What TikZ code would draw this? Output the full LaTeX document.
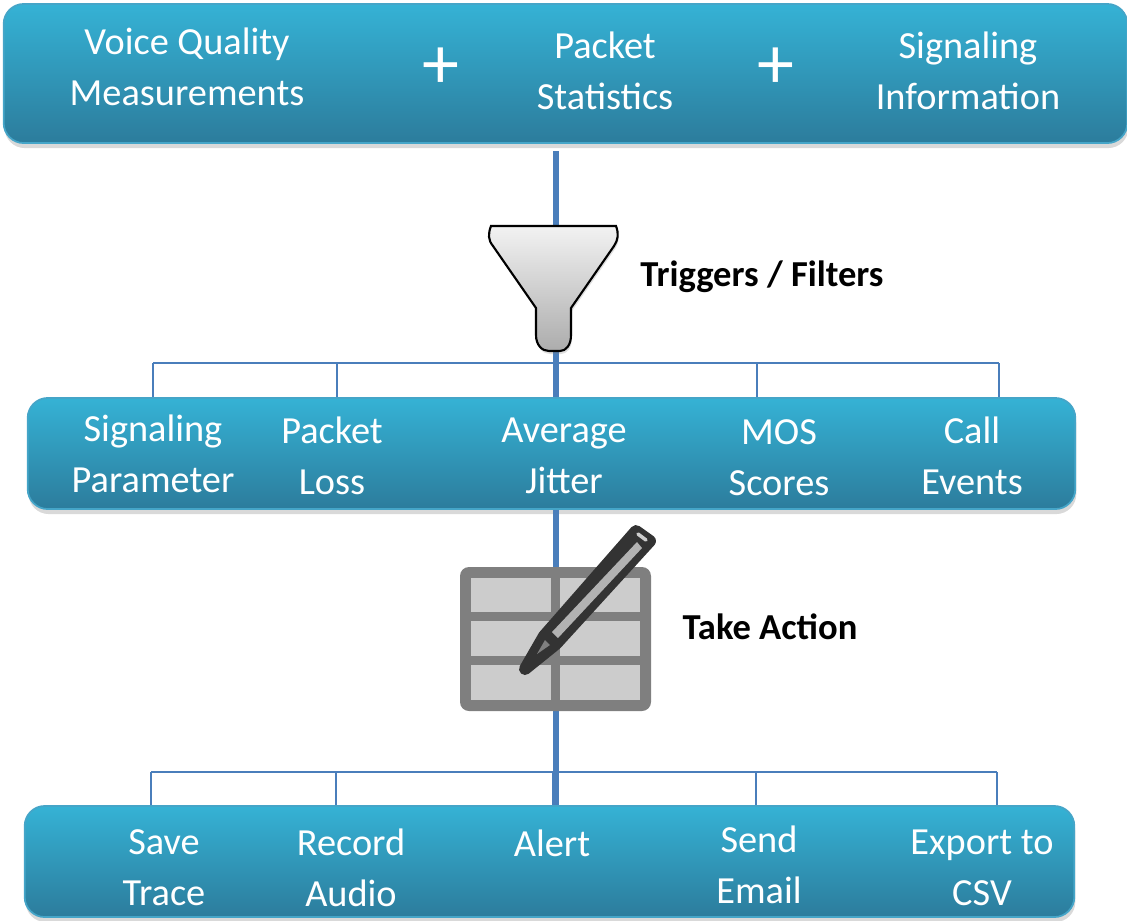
\documentclass[tikz,border=0pt]{standalone}
\usepackage{fontspec}
\setmainfont{Carlito}
\usetikzlibrary{shadows}
\definecolor{bartop}{HTML}{35B2D5}
\definecolor{barbottom}{HTML}{2C7C9C}
\definecolor{barline}{HTML}{45A5C8}
\definecolor{spineblue}{HTML}{4A7EBB}
\definecolor{tablegray}{HTML}{7F7F7F}
\definecolor{cellgray}{HTML}{CCCCCC}
\definecolor{pencildark}{HTML}{333333}
\tikzset{
    bar/.style={rectangle, rounded corners=0.2cm, draw=barline, line width=0.5pt, top color=bartop, bottom color=barbottom, inner sep=0pt, drop shadow={shadow xshift=0.01cm, shadow yshift=-0.05cm, opacity=0.3}},
    bartext/.style={text=white, align=center, font=\fontsize{10.9}{14.5}\selectfont, inner sep=0pt},
    plussign/.style={text=white, font=\fontsize{21}{21}\selectfont, inner sep=0pt},
    boldlabel/.style={text=black, font=\fontsize{10.4}{12}\selectfont\bfseries, inner sep=0pt},
    spine/.style={spineblue, line width=1.7pt},
    bus/.style={spineblue, line width=0.55pt}
}

\begin{document}
\begin{tikzpicture}[x=0.01cm, y=-0.01cm]
        \useasboundingbox (0, 0) rectangle (1127, 920);

        \node[bar, minimum width=11.23cm, minimum height=1.39cm] (topbar) at (565.5, 73.5) {};
        \node[bar, minimum width=10.47cm, minimum height=1.11cm] (midbar) at (551.5, 453.5) {};
        \node[bar, minimum width=10.49cm, minimum height=1.11cm] (botbar) at (549.5, 861.5) {};

        \coordinate (spinetop) at (556, 151);
        \draw[spine] (spinetop) -- (spinetop |- midbar.north);
        \draw[spine] (spinetop |- midbar.south) -- (spinetop |- botbar.north);

        \foreach \name/\xpos in {a/153, b/337, c/555, d/757, e/999} {
            \coordinate (mid\name) at (\xpos, 363);
            \draw[bus] (mid\name) -- (mid\name |- midbar.north);
        }
        \draw[bus] (mida) -- (mide);
        \foreach \name/\xpos in {a/151, b/336, c/553, d/756, e/997} {
            \coordinate (bot\name) at (\xpos, 772);
            \draw[bus] (bot\name) -- (bot\name |- botbar.north);
        }
        \draw[bus] (bota) -- (bote);

        \draw[black, line width=0.6pt, top color=gray!10, bottom color=gray!65, drop shadow={shadow xshift=0.01cm, shadow yshift=-0.03cm, opacity=0.25}]
            (491, 226) -- (616, 226) .. controls (619, 234) and (618, 240) .. (614, 246)
            -- (571, 308) -- (571, 335) .. controls (571, 345) and (566, 351) .. (560, 351)
            -- (549, 351) .. controls (542, 351) and (536, 345) .. (536, 335)
            -- (536, 308) -- (493, 246) .. controls (488, 240) and (488, 234) .. (491, 226) -- cycle;

        \fill[tablegray, rounded corners=0.09cm] (460, 567) rectangle (651, 711);
        \foreach \xa/\xb in {471/551, 560/640} {
            \foreach \ya/\yb in {578/612, 621/656, 665/700} {
                \fill[cellgray] (\xa, \ya) rectangle (\xb, \yb);
            }
        }

        \draw[pencildark, fill=pencildark, line width=3.4pt, line join=round] (525, 669) -- (544, 636) -- (636, 531) -- (650, 541) -- (556, 644) -- cycle;
        \fill[gray!60] (552, 632) -- (637, 542) -- (642, 548) -- (558, 638) -- cycle;
        \fill[tablegray] (537, 654) -- (545, 640) -- (550, 645) -- cycle;
        \draw[cellgray, line width=1pt, line cap=round] (638, 534) -- (646, 540);

        \node[bartext] (voice) at (187, 67) {Voice Quality\\Measurements};
        \node[plussign] (plusa) at (441, 68) {+};
        \node[bartext] (packet) at (605, 71) {Packet\\Statistics};
        \node[plussign] (plusb) at (776, 68) {+};
        \node[bartext] (signaling) at (968, 71) {Signaling\\Information};

        \node[boldlabel] (triggers) at (762, 277) {Triggers / Filters};
        \node[boldlabel] (action) at (770, 627) {Take Action};

        \node[bartext] (parameter) at (153, 454) {Signaling\\Parameter};
        \node[bartext] (loss) at (332, 456) {Packet\\Loss};
        \node[bartext] (jitter) at (564, 456) {Average\\Jitter};
        \node[bartext] (mos) at (779, 458) {MOS\\Scores};
        \node[bartext] (events) at (972, 456) {Call\\Events};

        \node[bartext] (trace) at (164, 868) {Save\\Trace};
        \node[bartext] (audio) at (351, 868) {Record\\Audio};
        \node[bartext] (alert) at (552, 843) {Alert};
        \node[bartext] (email) at (759, 865) {Send\\Email};
        \node[bartext] (csv) at (982, 868) {Export to\\CSV};
    \end{tikzpicture}
\end{document}
